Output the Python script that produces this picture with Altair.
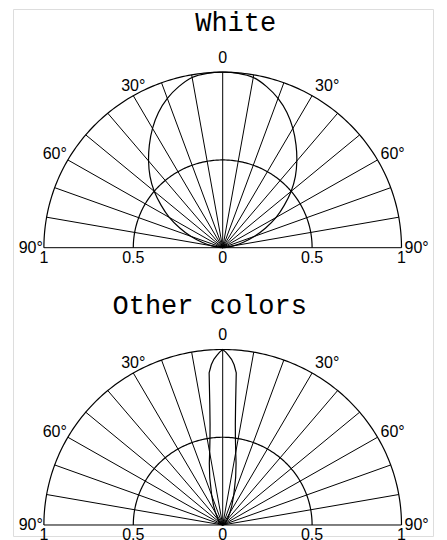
import altair as alt
import pandas as pd

# ---------------- data ----------------
panels = ["White", "Other colors"]

# White: relative intensity vs angle (deg), 0..90 (symmetric)
white_angles = [0, 5, 10, 15, 20, 25, 30, 35, 40, 45, 50, 55, 60, 65, 70, 75, 80, 85, 90]
white_values = [1.0, 0.997, 0.985, 0.95, 0.905, 0.85, 0.785, 0.715, 0.645, 0.575,
                0.50, 0.42, 0.345, 0.265, 0.19, 0.12, 0.06, 0.02, 0.0]

# Other colors: narrow beam
other_angles = [0, 1, 2, 3, 4, 5, 5.5, 6, 7, 8, 9, 10, 12, 15, 20, 25, 30, 40, 50, 60, 75, 90]
other_values = [1.0, 0.985, 0.965, 0.945, 0.915, 0.87, 0.77, 0.69, 0.58, 0.51, 0.46, 0.42,
                0.36, 0.28, 0.18, 0.12, 0.08, 0.04, 0.02, 0.01, 0.003, 0.0]

spoke_angles = list(range(-90, 91, 10))
ring_radii = [0.5, 1.0]
deg_label_angles = [-90, -60, -30, 0, 30, 60, 90]
deg_label_texts = ["90°", "60°", "30°", "0", "30°", "60°", "90°"]
radial_tick_values = [-1, -0.5, 0, 0.5, 1]
radial_tick_texts = ["1", "0.5", "0", "0.5", "1"]

# ---------------- layout constants ----------------
GAP = 1.58          # vertical offset of the upper diagram (data units)
OFF = f"datum.panel == '{panels[0]}' ? {GAP} : 0"
RAD = "PI / 180"

# ---------------- tables ----------------
def mirror(angles, values):
    a = [-x for x in reversed(angles[1:])] + list(angles)
    v = list(reversed(values[1:])) + list(values)
    return a, v

rows = []
for p, (ang, val) in zip(panels, [mirror(white_angles, white_values),
                                  mirror(other_angles, other_values)]):
    for i, (a, v) in enumerate(zip(ang, val)):
        rows.append({"panel": p, "angle": a, "value": v, "idx": i})
curves = pd.DataFrame(rows)

spokes = pd.DataFrame([{"panel": p, "angle": a} for p in panels for a in spoke_angles])
rings = pd.DataFrame([{"panel": p, "r": r} for p in panels for r in ring_radii])
deglabels = pd.DataFrame([{"panel": p, "angle": a, "text": t}
                          for p in panels for a, t in zip(deg_label_angles, deg_label_texts)])
radlabels = pd.DataFrame([{"panel": p, "pos": v, "text": t}
                          for p in panels for v, t in zip(radial_tick_values, radial_tick_texts)])

xs = alt.Scale(domain=[-1.1728, 1.1762], nice=False, zero=False)
ys = alt.Scale(domain=[-0.0627, 2.940], nice=False, zero=False)

def X(f):
    return alt.X(f, type="quantitative", scale=xs, axis=None)

def Y(f):
    return alt.Y(f, type="quantitative", scale=ys, axis=None)

INK = "#000000"
LABEL_FONT = "Liberation Sans"
TITLE_FONT = "Liberation Mono"

# spokes (incl. the ±90° baseline)
spoke_layer = alt.Chart(spokes).transform_calculate(
    off=OFF,
    x0="0", y0=f"{OFF}",
    x1=f"sin(datum.angle * {RAD})",
    y1=f"cos(datum.angle * {RAD}) + ({OFF})",
).mark_rule(color=INK, strokeWidth=1).encode(
    x=X("x0"), y=Y("y0"), x2="x1:Q", y2="y1:Q"
)

# rings r = 0.5 and 1
ring_layer = alt.Chart(rings).transform_calculate(
    ang="sequence(-90, 91, 1)"
).transform_flatten(["ang"]).transform_calculate(
    x=f"datum.r * sin(datum.ang * {RAD})",
    y=f"datum.r * cos(datum.ang * {RAD}) + ({OFF})",
    key="datum.panel + '_' + datum.r",
).mark_line(color=INK, strokeWidth=1.2).encode(
    x=X("x"), y=Y("y"), detail="key:N", order="ang:Q"
)

def curve_layer(p, interp):
    return alt.Chart(curves).transform_filter(
        f"datum.panel == '{p}'"
    ).transform_calculate(
        x=f"datum.value * sin(datum.angle * {RAD})",
        y=f"datum.value * cos(datum.angle * {RAD}) + ({OFF})",
    ).mark_line(color=INK, strokeWidth=1.2, interpolate=interp).encode(
        x=X("x"), y=Y("y"), order="idx:Q"
    )

def deg_base():
    return alt.Chart(deglabels).transform_calculate(
        x=f"sin(datum.angle * {RAD})",
        y=f"1.065 * cos(datum.angle * {RAD}) + ({OFF})",
    )

top_label = alt.Chart(deglabels).transform_filter("datum.angle == 0").transform_calculate(
    x="0", y=f"1.083 + ({OFF})"
).mark_text(font=LABEL_FONT, fontSize=16, color=INK, align="center", baseline="middle").encode(
    x=X("x"), y=Y("y"), text="text:N"
)
left_center = deg_base().transform_filter("datum.angle == -30").mark_text(
    font=LABEL_FONT, fontSize=16, color=INK, align="center", baseline="middle"
).encode(x=X("x"), y=Y("y"), text="text:N")
left_right = deg_base().transform_filter("datum.angle < -30").mark_text(
    font=LABEL_FONT, fontSize=16, color=INK, align="right", baseline="middle", dx=-1
).encode(x=X("x"), y=Y("y"), text="text:N")
right_labels = deg_base().transform_filter("datum.angle > 0").mark_text(
    font=LABEL_FONT, fontSize=16, color=INK, align="left", baseline="middle", dx=3
).encode(x=X("x"), y=Y("y"), text="text:N")

rad_layer = alt.Chart(radlabels).transform_calculate(
    y=f"{OFF}"
).mark_text(font=LABEL_FONT, fontSize=16, color=INK, align="center", baseline="top", dy=2).encode(
    x=X("pos"), y=Y("y"), text="text:N"
)

one = pd.DataFrame({"a": [0]})
title_top = alt.Chart(one).mark_text(
    text=panels[0], font=TITLE_FONT, fontSize=27, color=INK, align="center",
    baseline="alphabetic", dx=13
).encode(x=alt.X(datum=0, type="quantitative", scale=xs, axis=None),
         y=alt.Y(datum=GAP + 1.235, type="quantitative", scale=ys, axis=None))
title_bot = alt.Chart(one).mark_text(
    text=panels[1], font=TITLE_FONT, fontSize=27, color=INK, align="center",
    baseline="alphabetic", dx=-13
).encode(x=alt.X(datum=0, type="quantitative", scale=xs, axis=None),
         y=alt.Y(datum=1.202, type="quantitative", scale=ys, axis=None))

chart = alt.layer(
    ring_layer, spoke_layer,
    curve_layer(panels[0], "catmull-rom"),
    curve_layer(panels[1], "linear"),
    top_label, left_center, left_right, right_labels, rad_layer,
    title_top, title_bot,
).properties(
    width=420, height=527,
    padding={"left": 5, "right": 5, "top": 0, "bottom": 0},
).configure_view(stroke=None).configure(background="#ffffff")

chart.save("out.html", embed_options={"renderer": "svg", "actions": False})
